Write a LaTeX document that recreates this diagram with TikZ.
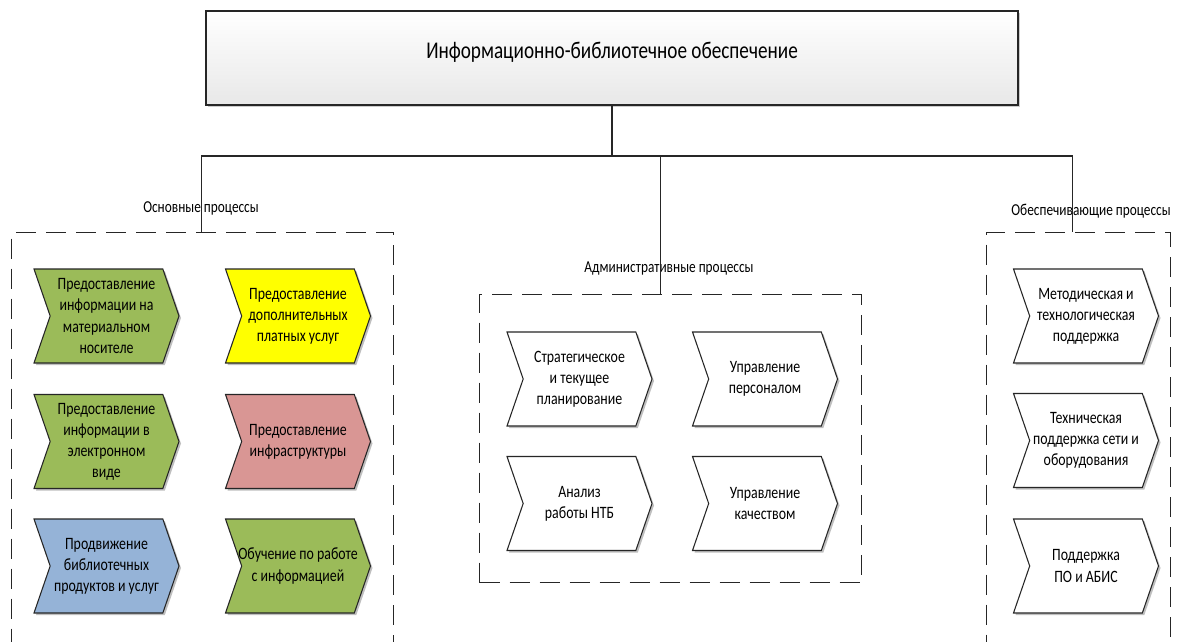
\documentclass[tikz,border=0pt]{standalone}
\usepackage{fontspec}
\setmainfont{Carlito}[FakeStretch=0.8]
\usetikzlibrary{shapes.symbols,shadows,calc}
\definecolor{cgreen}{HTML}{9BBB59}
\definecolor{cyellow}{HTML}{FFFF00}
\definecolor{cpink}{HTML}{D99694}
\definecolor{cblue}{HTML}{95B3D7}
\definecolor{cline}{HTML}{262626}
\begin{document}
\begin{tikzpicture}[x=0.75pt,y=-0.75pt,
  chev/.style={signal, signal from=west, signal to=east, signal pointer angle=142,
    draw=cline, line width=0.8pt, minimum width=108.75pt, minimum height=70.5pt,
    inner sep=0pt,
    drop shadow={shadow xshift=1.5pt, shadow yshift=-1.5pt, opacity=0.25, fill=black}},
  ctext/.style={align=center, inner sep=0pt, font=\fontsize{13}{15.8}\selectfont},
  topbox/.style={draw=cline, line width=0.8pt, top color=white, bottom color=black!9,
    minimum width=609pt, minimum height=70.5pt,
    drop shadow={shadow xshift=1.5pt, shadow yshift=-1.5pt, opacity=0.2, fill=black}},
  ttext/.style={inner sep=0pt, font=\fontsize{18}{21}\selectfont},
  dbox/.style={draw=cline, line width=0.9pt, dash pattern=on 15pt off 7.5pt,
    anchor=north west, inner sep=0pt},
  lbl/.style={font=\fontsize{12.5}{15}\selectfont, inner sep=1pt},
  conn/.style={draw=cline, line width=0.9pt}]
\clip (0,0) rectangle (1177,642);
\fill[white] (0,0) rectangle (1177,642);

\node[topbox, label={[ttext, yshift=4pt]center:Информационно-библиотечное обеспечение}] (top) at (612,58) {};

\node[dbox, minimum width=286.5pt, minimum height=322.5pt] (lbox) at (11,232) {};
\node[dbox, minimum width=286.5pt, minimum height=216pt] (mbox) at (479,294) {};
\node[dbox, minimum width=138pt, minimum height=322.5pt] (rbox) at (986,232) {};

\node[lbl] (llbl) at (201,208) {Основные процессы};
\node[lbl] (mlbl) at (669,269) {Административные процессы};
\node[lbl] (rlbl) at (1091,211) {Обеспечивающие процессы};

\coordinate (bus) at (612,156);
\draw[conn] (top.south) -- (bus);
\draw[conn] (bus) -| ([xshift=-0.75pt]lbox.north);
\draw[conn] (bus) -| ([xshift=-7.5pt]mbox.north);
\draw[conn] (bus) -| ([xshift=-4.5pt]rbox.north);

% left group
\node[chev, fill=cgreen, label={[ctext]center:Предоставление\\информации на\\материальном\\носителе}] (l1) at (106.5,316) {};
\node[chev, fill=cyellow, label={[ctext]center:Предоставление\\дополнительных\\платных услуг}] (l2) at (298,316) {};
\node[chev, fill=cgreen, label={[ctext]center:Предоставление\\информации в\\электронном\\виде}] (l3) at (106.5,441.5) {};
\node[chev, fill=cpink, label={[ctext]center:Предоставление\\инфраструктуры}] (l4) at (298,441.5) {};
\node[chev, fill=cblue, label={[ctext]center:Продвижение\\библиотечных\\продуктов и услуг}] (l5) at (106.5,566) {};
\node[chev, fill=cgreen, label={[ctext]center:Обучение по работе\\с информацией}] (l6) at (298,566) {};

% middle group
\node[chev, fill=white, label={[ctext]center:Стратегическое\\и текущее\\планирование}] (m1) at (579.5,379) {};
\node[chev, fill=white, label={[ctext]center:Управление\\персоналом}] (m2) at (765,379) {};
\node[chev, fill=white, label={[ctext]center:Анализ\\работы НТБ}] (m3) at (579.5,503.5) {};
\node[chev, fill=white, label={[ctext]center:Управление\\качеством}] (m4) at (765,503.5) {};

% right group
\node[chev, fill=white, label={[ctext]center:Методическая и\\технологическая\\поддержка}] (r1) at (1086,316) {};
\node[chev, fill=white, label={[ctext]center:Техническая\\поддержка сети и\\оборудования}] (r2) at (1086,440.5) {};
\node[chev, fill=white, label={[ctext]center:Поддержка\\ПО и АБИС}] (r3) at (1086,566) {};
\end{tikzpicture}
\end{document}
